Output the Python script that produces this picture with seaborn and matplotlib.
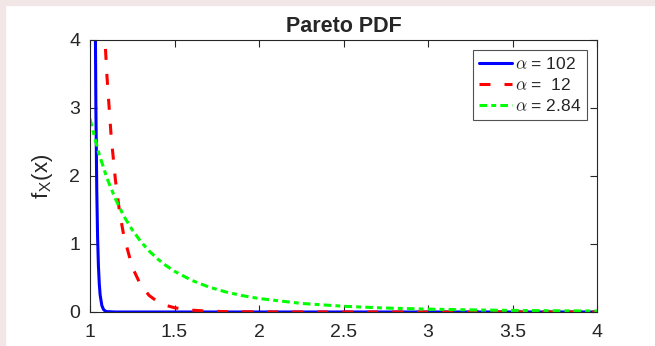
import matplotlib
matplotlib.use("Agg")
import matplotlib.pyplot as plt
import seaborn as sns
import pandas as pd
from matplotlib.patches import Rectangle

# values
x_102 = [1.00, 1.01, 1.02, 1.025, 1.03, 1.035, 1.04, 1.045, 1.05, 1.055, 1.06, 1.07, 1.08, 1.09, 1.10, 1.15, 1.5, 2.0, 3.0, 4.0]
y_102 = [102, 36.6, 13.3, 8.1, 4.86, 2.96, 1.80, 1.09, 0.67, 0.41, 0.25, 0.096, 0.037, 0.014, 0.0055, 0.0, 0.0, 0.0, 0.0, 0.0]

x_12 = [1.00, 1.02, 1.05, 1.08, 1.10, 1.125, 1.15, 1.175, 1.20, 1.25, 1.30, 1.35, 1.40, 1.45, 1.50, 1.60, 1.70, 1.80, 2.0, 2.5, 3.0, 4.0]
y_12 = [12.0, 9.28, 6.36, 4.41, 3.48, 2.59, 1.95, 1.47, 1.12, 0.66, 0.396, 0.243, 0.151, 0.097, 0.062, 0.027, 0.012, 0.0058, 0.0015, 0.0001, 0.0, 0.0]

x_284 = [1.00, 1.05, 1.10, 1.15, 1.20, 1.25, 1.30, 1.35, 1.40, 1.45, 1.50, 1.60, 1.70, 1.80, 1.90, 2.00, 2.25, 2.50, 2.75, 3.00, 3.25, 3.50, 3.75, 4.00]
y_284 = [2.84, 2.354, 1.970, 1.665, 1.410, 1.208, 1.037, 0.897, 0.780, 0.682, 0.599, 0.467, 0.370, 0.297, 0.241, 0.198, 0.126, 0.084, 0.058, 0.042, 0.031, 0.023, 0.018, 0.014]

labels = [r"$\alpha$ = 102", r"$\alpha$ =  12", r"$\alpha$ = 2.84"]
colors = ["#0000ff", "#ff0000", "#00ff00"]
dashes = [None, (7.9, 10.1), (5.5, 3.0, 3.5, 3.0)]

sns.set_style("white")
plt.rcParams["font.family"] = ["Liberation Sans", "DejaVu Sans"]
plt.rcParams["mathtext.fontset"] = "cm"
plt.rcParams["lines.scale_dashes"] = False

fig = plt.figure(figsize=(6.55, 3.46), dpi=100)
fig.patch.set_facecolor("white")
# thin pinkish border at top and left
fig.patches.append(Rectangle((0, 0.985), 1, 0.015, transform=fig.transFigure, color="#f2e6e6", zorder=0))
fig.patches.append(Rectangle((0, 0), 0.008, 1, transform=fig.transFigure, color="#f2e6e6", zorder=0))

ax = fig.add_axes([0.1374, 0.0983, 0.7741, 0.7861])

series = [(x_102, y_102), (x_12, y_12), (x_284, y_284)]
for (xs, ys), lab, col, ds in zip(series, labels, colors, dashes):
    df = pd.DataFrame({"x": xs, "y": ys})
    sns.lineplot(data=df, x="x", y="y", ax=ax, color=col, linewidth=2.2, label=lab)
    if ds is not None:
        ax.lines[-1].set_dashes(ds)

ax.set_xlim(1, 4)
ax.set_ylim(0, 4)
ax.set_xticks([1, 1.5, 2, 2.5, 3, 3.5, 4])
ax.set_xticklabels(["1", "1.5", "2", "2.5", "3", "3.5", "4"])
ax.set_yticks([0, 1, 2, 3, 4])
ax.set_xlabel("")
ax.set_ylabel(r"f$_{\mathsf{X}}$(x)", fontsize=16, color="#262626", labelpad=10)
ax.set_title("Pareto PDF", fontsize=15.5, fontweight="bold", pad=6)

ax.tick_params(direction="in", length=5, width=0.8, labelsize=14, colors="#262626",
               top=True, right=True, bottom=True, left=True)
ax.tick_params(axis="x", pad=9)
ax.tick_params(axis="y", pad=7)
for s in ax.spines.values():
    s.set_visible(True)
    s.set_color("#262626")
    s.set_linewidth(0.8)

leg = ax.legend(loc="upper right", fontsize=12.5, frameon=True, fancybox=False,
                handlelength=1.9, handletextpad=0.2, borderpad=0.35, labelspacing=0.3,
                borderaxespad=0.55)
leg.get_frame().set_edgecolor("#262626")
leg.get_frame().set_linewidth(0.8)
for h, ds in zip(leg.get_lines(), dashes):
    if ds is not None:
        h.set_dashes(ds)

fig.savefig("out.png", dpi=100)
